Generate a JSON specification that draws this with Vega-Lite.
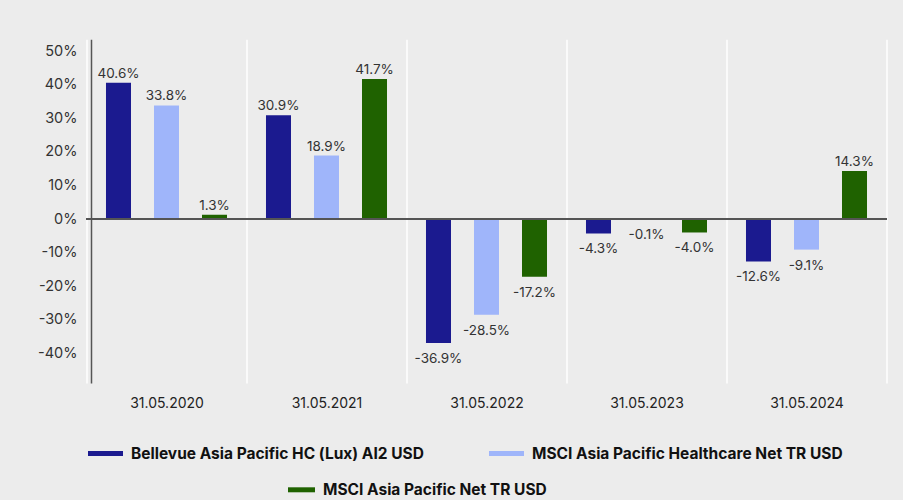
{
  "$schema": "https://vega.github.io/schema/vega-lite/v6.json",
  "width": 800,
  "height": 343.7,
  "autosize": {"type": "none"},
  "padding": {"left": 86.5, "top": 39.3, "right": 16.5, "bottom": 117},
  "background": "#ececec",
  "config": {
    "view": {"stroke": null},
    "font": "Inter",
    "axis": {"labelOverlap": false},
    "axisY": {"labelOverlap": false},
    "locale": {"number": {"decimal": ".", "thousands": ",", "grouping": [3], "currency": ["$", ""], "minus": "-"}}
  },
  "data": {
    "values": [
      {"date": "31.05.2020", "series": "Bellevue Asia Pacific HC (Lux) AI2 USD", "value": 0.406},
      {"date": "31.05.2020", "series": "MSCI Asia Pacific Healthcare Net TR USD", "value": 0.338},
      {"date": "31.05.2020", "series": "MSCI Asia Pacific Net TR USD", "value": 0.013},
      {"date": "31.05.2021", "series": "Bellevue Asia Pacific HC (Lux) AI2 USD", "value": 0.309},
      {"date": "31.05.2021", "series": "MSCI Asia Pacific Healthcare Net TR USD", "value": 0.189},
      {"date": "31.05.2021", "series": "MSCI Asia Pacific Net TR USD", "value": 0.417},
      {"date": "31.05.2022", "series": "Bellevue Asia Pacific HC (Lux) AI2 USD", "value": -0.369},
      {"date": "31.05.2022", "series": "MSCI Asia Pacific Healthcare Net TR USD", "value": -0.285},
      {"date": "31.05.2022", "series": "MSCI Asia Pacific Net TR USD", "value": -0.172},
      {"date": "31.05.2023", "series": "Bellevue Asia Pacific HC (Lux) AI2 USD", "value": -0.043},
      {"date": "31.05.2023", "series": "MSCI Asia Pacific Healthcare Net TR USD", "value": -0.001},
      {"date": "31.05.2023", "series": "MSCI Asia Pacific Net TR USD", "value": -0.04},
      {"date": "31.05.2024", "series": "Bellevue Asia Pacific HC (Lux) AI2 USD", "value": -0.126},
      {"date": "31.05.2024", "series": "MSCI Asia Pacific Healthcare Net TR USD", "value": -0.091},
      {"date": "31.05.2024", "series": "MSCI Asia Pacific Net TR USD", "value": 0.143}
    ]
  },
  "encoding": {
    "x": {"field": "date", "type": "nominal", "sort": null, "scale": {"paddingInner": 0, "paddingOuter": 0},
      "axis": {"title": null, "domain": false, "ticks": false, "labelPadding": 13, "labelFontSize": 14, "labelColor": "#222", "labelAngle": 0, "grid": true, "gridColor": "#ffffff", "gridWidth": 1.5, "tickBand": "extent"}},
    "xOffset": {"field": "series", "type": "nominal", "scale": {"domain": ["Bellevue Asia Pacific HC (Lux) AI2 USD", "MSCI Asia Pacific Healthcare Net TR USD", "MSCI Asia Pacific Net TR USD"], "paddingInner": 0.479, "paddingOuter": 0.406}},
    "y": {"field": "value", "type": "quantitative", "scale": {"domain": [-0.488, 0.535], "nice": false, "zero": true},
      "axis": {"title": null, "values": [-0.4, -0.3, -0.2, -0.1, 0, 0.1, 0.2, 0.3, 0.4, 0.5], "format": ".0%", "labelOverlap": false, "domainColor": "#555555", "domainWidth": 1.5, "ticks": false, "grid": false, "labelFontSize": 14.5, "labelColor": "#333333", "labelPadding": 14, "offset": -4.5}}
  },
  "layer": [
    {
      "mark": {"type": "bar"},
      "transform": [{"filter": "datum.series != 'MSCI Asia Pacific Net TR USD'"}],
      "encoding": {
        "color": {"field": "series", "type": "nominal", "scale": {"domain": ["Bellevue Asia Pacific HC (Lux) AI2 USD", "MSCI Asia Pacific Healthcare Net TR USD"], "range": ["#1b1a8f", "#9fb5fa"]},
          "legend": {"orient": "none", "legendX": 1.5, "legendY": 396.7, "direction": "horizontal", "title": null, "symbolType": "M-1,-0.143H1V0.143H-1Z", "symbolSize": 1225, "symbolStrokeWidth": 0, "labelFontSize": 15.5, "labelFontWeight": "bold", "labelColor": "#111111", "labelLimit": 500, "columnPadding": 65, "labelOffset": 8}}
      }
    },
    {
      "mark": {"type": "bar"},
      "transform": [{"filter": "datum.series == 'MSCI Asia Pacific Net TR USD'"}],
      "encoding": {
        "fill": {"field": "series", "type": "nominal", "scale": {"domain": ["MSCI Asia Pacific Net TR USD"], "range": ["#1f6200"]},
          "legend": {"orient": "none", "legendX": 201.5, "legendY": 437, "direction": "horizontal", "title": null, "symbolType": "M-1,-0.185H1V0.185H-1Z", "symbolSize": 729, "symbolStrokeWidth": 0, "labelFontSize": 15.5, "labelFontWeight": "bold", "labelColor": "#111111", "labelLimit": 500, "labelOffset": 8}}
      }
    },
    {
      "mark": {"type": "text", "baseline": "alphabetic", "dy": -5, "fontSize": 13.5, "color": "#333333", "align": "center"},
      "transform": [{"filter": "datum.value >= 0"}],
      "encoding": {
        "text": {"field": "value", "type": "quantitative", "format": ".1%"}
      }
    },
    {
      "mark": {"type": "text", "baseline": "top", "dy": 9, "fontSize": 13.5, "color": "#333333", "align": "center"},
      "transform": [{"filter": "datum.value < 0"}],
      "encoding": {
        "text": {"field": "value", "type": "quantitative", "format": ".1%"}
      }
    },
    {
      "mark": {"type": "rule", "color": "#555555", "strokeWidth": 1.5},
      "encoding": {"x": null, "xOffset": null, "y": {"datum": 0, "type": "quantitative"}}
    }
  ]
}
